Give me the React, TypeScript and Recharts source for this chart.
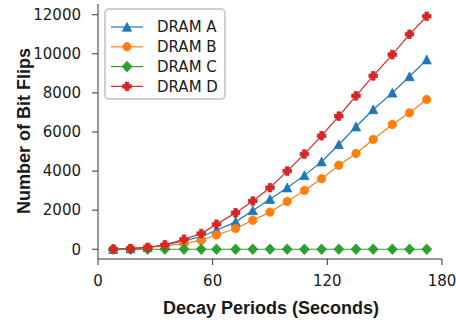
import { LineChart, Line, XAxis, YAxis, Legend, Label } from 'recharts';

const decaySeconds = [8, 17, 26, 35, 45, 54, 62, 72, 81, 90, 99, 108, 117, 126, 135, 144, 154, 163, 172];
const dramA = [0, 30, 90, 220, 430, 650, 970, 1400, 1980, 2560, 3150, 3780, 4480, 5360, 6270, 7150, 8000, 8840, 9700];
const dramB = [0, 30, 90, 170, 290, 460, 730, 1060, 1480, 1900, 2440, 3010, 3610, 4300, 4900, 5620, 6380, 6980, 7660];
const dramC = [0, 0, 0, 0, 0, 0, 0, 0, 0, 0, 0, 0, 0, 0, 0, 0, 0, 0, 0];
const dramD = [0, 30, 90, 220, 510, 800, 1280, 1860, 2470, 3150, 4000, 4870, 5810, 6810, 7850, 8870, 9960, 11000, 11920];

const xTicks = [0, 60, 120, 180];
const yTicks = [0, 2000, 4000, 6000, 8000, 10000, 12000];

const series = [
  { key: 'dramA', name: 'DRAM A', color: '#1f77b4', shape: 'triangle' },
  { key: 'dramB', name: 'DRAM B', color: '#ff7f0e', shape: 'circle' },
  { key: 'dramC', name: 'DRAM C', color: '#2ca02c', shape: 'diamond' },
  { key: 'dramD', name: 'DRAM D', color: '#d62728', shape: 'plus' },
];

const data = decaySeconds.map((t, i) => ({
  t,
  dramA: dramA[i],
  dramB: dramB[i],
  dramC: dramC[i],
  dramD: dramD[i],
}));

const ink = '#1a1a1a';
const tickFont = { fontSize: 15, fill: ink, fontFamily: 'DejaVu Sans' };
const labelFont = { fontSize: 18, fontWeight: 700, fill: ink, fontFamily: 'Liberation Sans, Arial, sans-serif' };

function Marker({ shape, cx, cy, color }: { shape: string; cx: number; cy: number; color: string }) {
  if (shape === 'triangle') {
    return <polygon points={`${cx},${cy - 4.6} ${cx - 4.6},${cy + 4.2} ${cx + 4.6},${cy + 4.2}`} fill={color} stroke={color} strokeWidth={0.8} />;
  }
  if (shape === 'circle') {
    return <circle cx={cx} cy={cy} r={4.2} fill={color} stroke={color} strokeWidth={0.8} />;
  }
  if (shape === 'diamond') {
    return <polygon points={`${cx},${cy - 5.3} ${cx + 5},${cy} ${cx},${cy + 5.3} ${cx - 5},${cy}`} fill={color} stroke={color} strokeWidth={0.8} />;
  }
  const a = 4.3;
  const w = 1.8;
  return (
    <path
      d={`M${cx - w},${cy - a} H${cx + w} V${cy - w} H${cx + a} V${cy + w} H${cx + w} V${cy + a} H${cx - w} V${cy + w} H${cx - a} V${cy - w} H${cx - w} Z`}
      fill={color}
      stroke={color}
      strokeWidth={0.8}
      strokeLinejoin="round"
    />
  );
}

function LegendBox({ payload }: any) {
  const items = payload || [];
  return (
    <svg width={122} height={92} style={{ display: 'block' }}>
      <rect x={1} y={1} width={120} height={90} rx={4} fill="rgba(255,255,255,0.85)" stroke="#d0d0d0" strokeWidth={2} />
      {items.map((it: any, i: number) => {
        const s = series.find((d) => d.key === it.dataKey) || series[i];
        const y = 19 + i * 19.8;
        return (
          <g key={s.key}>
            <line x1={7} x2={39} y1={y} y2={y} stroke={s.color} strokeWidth={1.2} />
            <Marker shape={s.shape} cx={23} cy={y} color={s.color} />
            <text x={53} y={y} dy="0.36em" style={tickFont}>
              {s.name}
            </text>
          </g>
        );
      })}
    </svg>
  );
}

export default function App() {
  return (
    <div style={{ position: 'absolute', left: 0, top: 0, width: 456, height: 324, background: '#fff' }}>
      <LineChart width={456} height={324} data={data} margin={{ top: 4, right: 14, bottom: 5, left: 0 }}>
        <XAxis
          dataKey="t"
          type="number"
          domain={[0, 180]}
          ticks={xTicks}
          interval={0}
          height={60}
          stroke="#333"
          tickSize={6}
          tickMargin={10}
          tick={tickFont}
          tickLine={{ stroke: '#333' }}
        >
          <Label
            content={() => (
              <text x={271} y={314} textAnchor="middle" style={labelFont}>
                Decay Periods (Seconds)
              </text>
            )}
          />
        </XAxis>
        <YAxis
          type="number"
          domain={[-500, 12550]}
          ticks={yTicks}
          interval={0}
          width={98}
          stroke="#333"
          tickSize={6}
          tickMargin={11}
          tick={tickFont}
          tickLine={{ stroke: '#333' }}
        >
          <Label
            content={() => (
              <text x={30} y={131} textAnchor="middle" transform="rotate(-90 30 131)" style={labelFont}>
                Number of Bit Flips
              </text>
            )}
          />
        </YAxis>
        <Legend
          layout="horizontal"
          verticalAlign="middle"
          align="center"
          wrapperStyle={{ left: 104, top: 8, width: 122, height: 92 }}
          content={<LegendBox />}
        />
        {series.map((s) => (
          <Line
            key={s.key}
            dataKey={s.key}
            name={s.name}
            stroke={s.color}
            strokeWidth={1.2}
            isAnimationActive={false}
            dot={(p: any) => <Marker key={`${s.key}-${p.index}`} shape={s.shape} cx={p.cx} cy={p.cy} color={s.color} />}
            activeDot={false}
          />
        ))}
      </LineChart>
    </div>
  );
}
